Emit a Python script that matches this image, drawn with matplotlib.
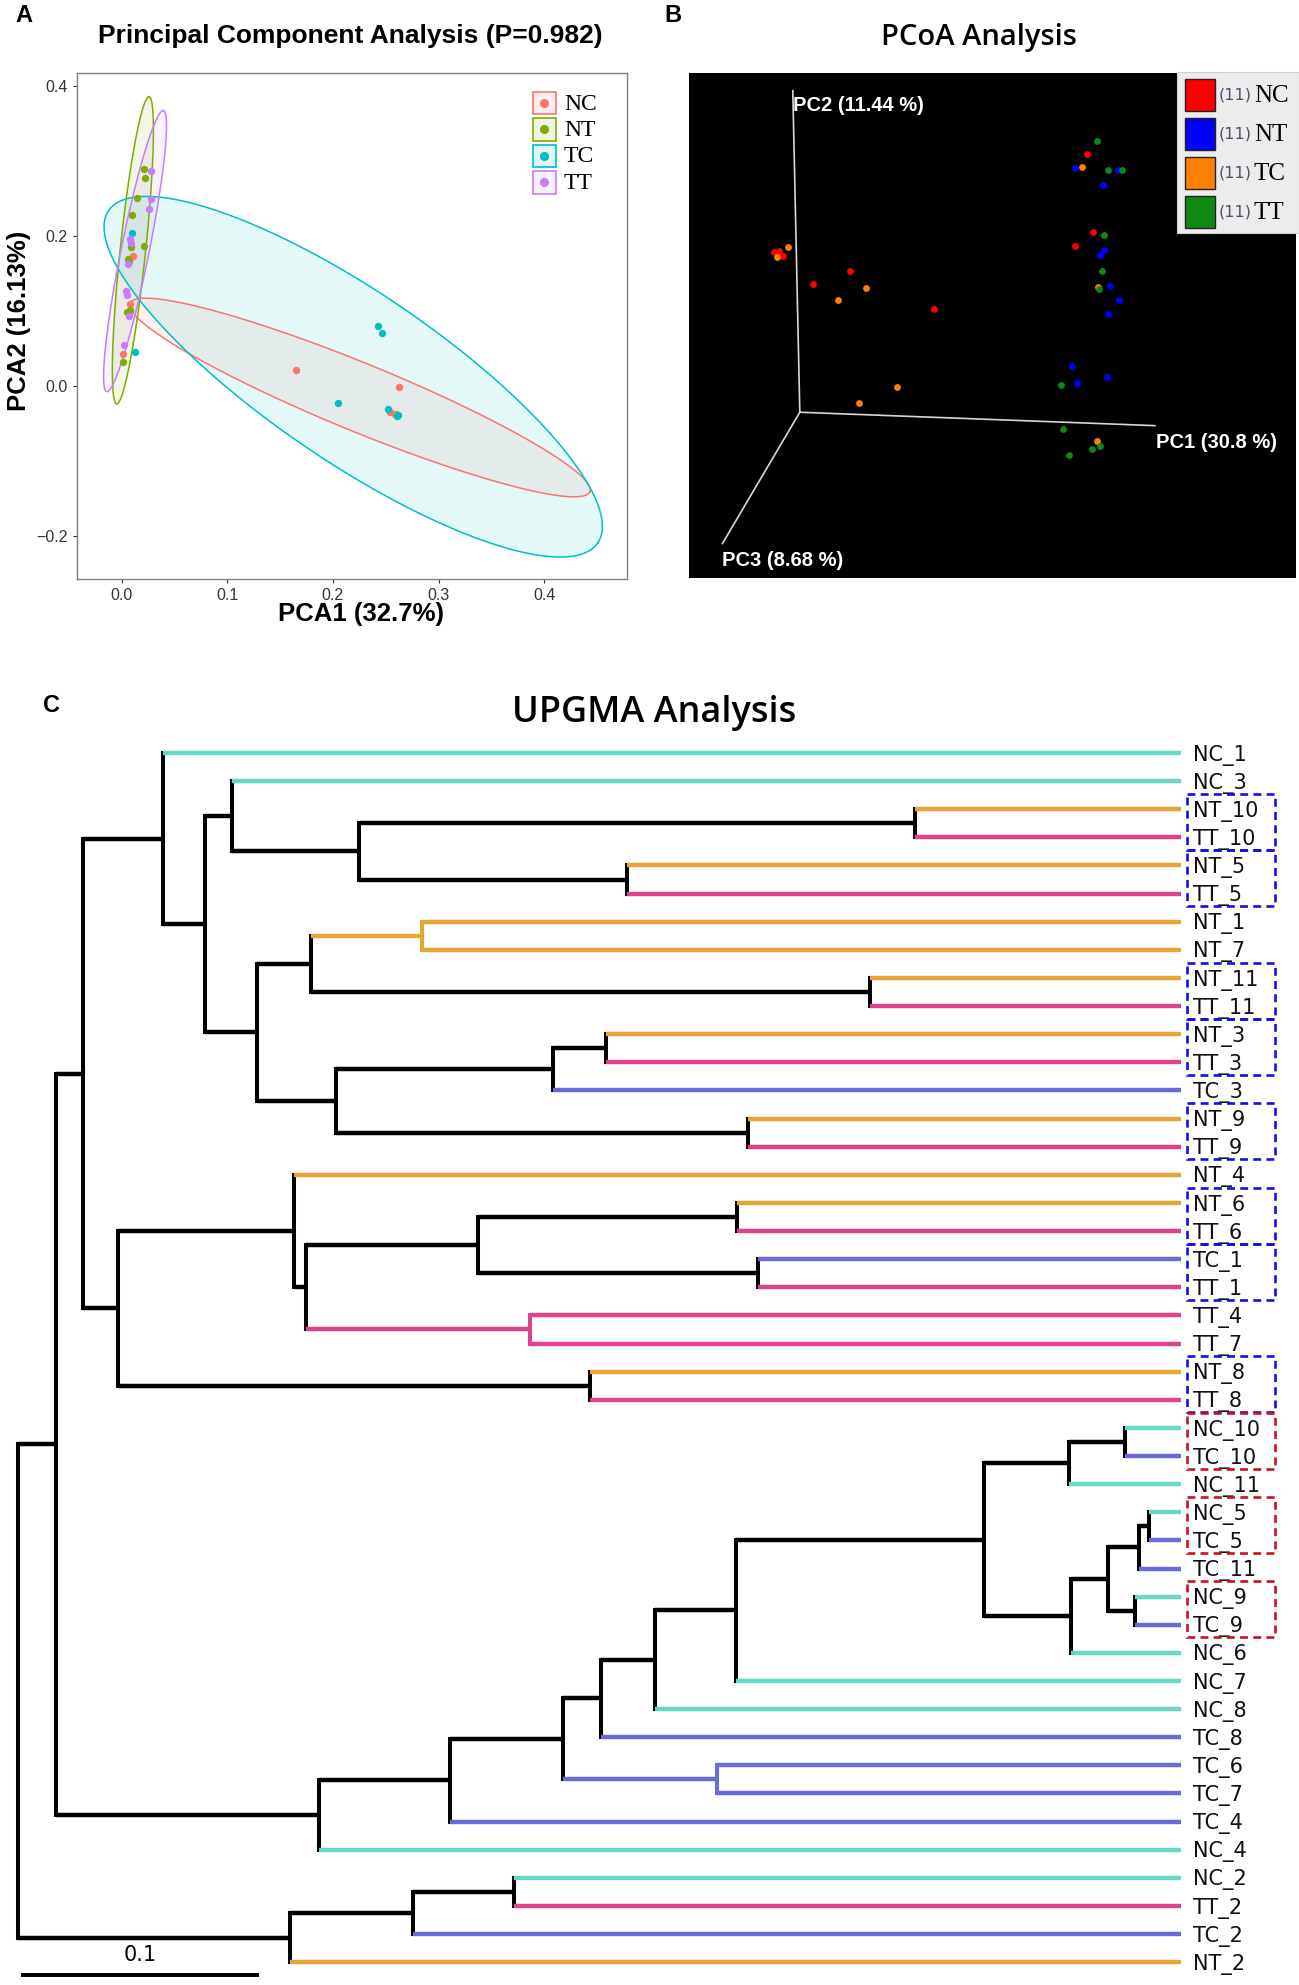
import numpy as np
import matplotlib
matplotlib.use("Agg")
import matplotlib.pyplot as plt
from matplotlib.patches import Rectangle

# ---------------- panel A data (PCA) ----------------
pca_groups = ["NC", "NT", "TC", "TT"]
pca_colors = ["#F8766D", "#7CAE00", "#00BFC4", "#C77CFF"]
nc_x = [0.0106, 0.0080, 0.0011, 0.1650, 0.2625, 0.2540, 0.2588, 0.2600, 0.2595]
nc_y = [0.1735, 0.1095, 0.0424, 0.0210, -0.0016, -0.0349, -0.0376, -0.0370, -0.0385]
nt_x = [0.0216, 0.0225, 0.0144, 0.0096, 0.0090, 0.0213, 0.0065, 0.0049, 0.0080, 0.0017, 0.0070]
nt_y = [0.2895, 0.2770, 0.2512, 0.2286, 0.1859, 0.1864, 0.1690, 0.0984, 0.1015, 0.0325, 0.1670]
tc_x = [0.0099, 0.0128, 0.2430, 0.2462, 0.2051, 0.2518, 0.2619, 0.2610]
tc_y = [0.2037, 0.0455, 0.0801, 0.0712, -0.0229, -0.0305, -0.0385, -0.0395]
tt_x = [0.0276, 0.0276, 0.0263, 0.0080, 0.0087, 0.0065, 0.0043, 0.0049, 0.0071, 0.0021]
tt_y = [0.2868, 0.2499, 0.2366, 0.1957, 0.1912, 0.1632, 0.1272, 0.1215, 0.0935, 0.0548]
pca_x = [nc_x, nt_x, tc_x, tt_x]
pca_y = [nc_y, nt_y, tc_y, tt_y]
# confidence ellipses: centre and two conjugate semi-axes (data units)
ell_center = [(0.2255, -0.0152), (0.01075, 0.1811), (0.2192, 0.0125), (0.0128, 0.1800)]
ell_u = [(0.2176, -0.1257), (0.0153, 0.2049), (0.2312, -0.2220), (0.0268, 0.1874)]
ell_v = [(-0.0125, -0.0417), (0.0120, -0.0017), (-0.0461, -0.0924), (0.0130, -0.0035)]
pca_xticks = [0.0, 0.1, 0.2, 0.3, 0.4]
pca_yticks = [-0.2, 0.0, 0.2, 0.4]

# ---------------- panel B data (PCoA, projected screen coords) ----------------
pcoa_groups = ["NC", "NT", "TC", "TT"]
pcoa_colors = ["#FF0000", "#0000FF", "#FF8000", "#118811"]
pcoa_pts = {
    "NC": [(300, 658), (312, 655), (322, 668), (393, 742), (484, 708), (687, 808),
           (1057, 403), (1071, 605), (1028, 642), (306, 660), (315, 665)],
    "TC": [(308, 672), (334, 645), (522, 752), (455, 785), (596, 1012), (506, 1052),
           (1044, 437), (1083, 750), (1079, 1152)],
    "NT": [(1028, 438), (1130, 443), (1095, 484), (1096, 654), (1087, 666), (1112, 748),
           (1134, 785), (1107, 821), (1020, 955), (1032, 1000), (1104, 986)],
    "TT": [(1079, 368), (1107, 443), (1140, 444), (1097, 615), (1091, 709), (1085, 756),
           (992, 1005), (997, 1120), (1013, 1188), (1067, 1173), (1088, 1165)],
}
pcoa_origin = (362, 1077)
pcoa_axis_ends = [(1220, 1112), (345, 237), (175, 1420)]
pcoa_axis_labels = ["PC1 (30.8 %)", "PC2 (11.44 %)", "PC3 (8.68 %)"]
pcoa_label_pos = [(1222, 1155), (345, 275), (175, 1465)]
pcoa_counts = [11, 11, 11, 11]

# ---------------- panel C data (UPGMA tree) ----------------
leaves = ["NC_1", "NC_3", "NT_10", "TT_10", "NT_5", "TT_5", "NT_1", "NT_7", "NT_11", "TT_11",
          "NT_3", "TT_3", "TC_3", "NT_9", "TT_9", "NT_4", "NT_6", "TT_6", "TC_1", "TT_1",
          "TT_4", "TT_7", "NT_8", "TT_8", "NC_10", "TC_10", "NC_11", "NC_5", "TC_5", "TC_11",
          "NC_9", "TC_9", "NC_6", "NC_7", "NC_8", "TC_8", "TC_6", "TC_7", "TC_4", "NC_4",
          "NC_2", "TT_2", "TC_2", "NT_2"]
LEAF_DEPTH = 0.4872
# (node, child_a, child_b, distance from root)
tree_nodes = [
    ("root", "a1", "b1", 0.0), ("a1", "u", "m", 0.0160), ("u", "u1", "u2", 0.0271),
    ("u1", "NC_1", "u1b", 0.0608), ("u1b", "u1c", "u1d", 0.0781), ("u1c", "NC_3", "p10_5", 0.0896),
    ("p10_5", "p10", "p5", 0.1427), ("p10", "NT_10", "TT_10", 0.3760), ("p5", "NT_5", "TT_5", 0.2552),
    ("u1d", "q1", "q2", 0.1000), ("q1", "p1_7", "p11", 0.1226), ("p1_7", "NT_1", "NT_7", 0.1694),
    ("p11", "NT_11", "TT_11", 0.3569), ("q2", "q3", "p9", 0.1330), ("q3", "p3", "TC_3", 0.2243),
    ("p3", "NT_3", "TT_3", 0.2465), ("p9", "NT_9", "TT_9", 0.3059), ("u2", "r1", "p8", 0.0420),
    ("r1", "NT_4", "r2", 0.1156), ("r2", "r3", "p4_7", 0.1208), ("r3", "p6", "p1", 0.1927),
    ("p6", "NT_6", "TT_6", 0.3014), ("p1", "TC_1", "TT_1", 0.3101), ("p4_7", "TT_4", "TT_7", 0.2146),
    ("p8", "NT_8", "TT_8", 0.2396), ("m", "m1", "NC_4", 0.1260), ("m1", "m2", "TC_4", 0.1809),
    ("m2", "m3", "p6_7", 0.2285), ("p6_7", "TC_6", "TC_7", 0.2927), ("m3", "m4", "TC_8", 0.2441),
    ("m4", "m5", "NC_8", 0.2667), ("m5", "m6", "NC_7", 0.3007), ("m6", "m7", "m8", 0.4049),
    ("m7", "p10c", "NC_11", 0.4403), ("p10c", "NC_10", "TC_10", 0.4639), ("m8", "m9", "NC_6", 0.4413),
    ("m9", "m10", "p9c", 0.4569), ("m10", "p5c", "TC_11", 0.4698), ("p5c", "NC_5", "TC_5", 0.4740),
    ("p9c", "NC_9", "TC_9", 0.4681), ("b1", "b2", "NT_2", 0.1139), ("b2", "p2", "TC_2", 0.1653),
    ("p2", "NC_2", "TT_2", 0.2076),
]
tree_colors = {"NC": "#66D9C6", "NT": "#E5A535", "TC": "#6A6ADA", "TT": "#E0418D"}
boxes_blue = [("NT_10", "TT_10"), ("NT_5", "TT_5"), ("NT_11", "TT_11"), ("NT_3", "TT_3"),
              ("NT_9", "TT_9"), ("NT_6", "TT_6"), ("TC_1", "TT_1"), ("NT_8", "TT_8")]
boxes_red = [("NC_10", "TC_10"), ("NC_5", "TC_5"), ("NC_9", "TC_9")]
scale_len = 0.1

plt.rcParams['font.family'] = ['DejaVu Sans']
W, H = 1299, 1985
fig = plt.figure(figsize=(W / 100, H / 100), dpi=100)


def axes_px(x0, y0, x1, y1, **kw):
    return fig.add_axes([x0 / W, 1 - y1 / H, (x1 - x0) / W, (y1 - y0) / H], **kw)


# ---------------- panel A ----------------
axA = axes_px(76.7, 72.7, 627, 579)
t = np.linspace(0, 2 * np.pi, 300)
for g, col, c, u, v in zip(pca_groups, pca_colors, ell_center, ell_u, ell_v):
    ex = c[0] + u[0] * np.cos(t) + v[0] * np.sin(t)
    ey = c[1] + u[1] * np.cos(t) + v[1] * np.sin(t)
    axA.fill(ex, ey, color=col, alpha=0.1, lw=0)
    axA.plot(ex, ey, color=col, lw=1.1)
for g, col, xs, ys in zip(pca_groups, pca_colors, pca_x, pca_y):
    axA.scatter(xs, ys, s=28, color=col, zorder=3, lw=0)
axA.set_xlim(-0.0424, 0.4782)
axA.set_ylim(-0.2572, 0.4179)
axA.set_xticks(pca_xticks)
axA.set_xticklabels([f"{v:.1f}" for v in pca_xticks])
axA.set_yticks(pca_yticks)
axA.set_yticklabels([f"{v:.1f}".replace("-", "\u2212") for v in pca_yticks])
axA.tick_params(length=3, width=0.8, color="#333333", labelsize=11.5, labelcolor="#333333", pad=3.5)
for lab in axA.get_xticklabels() + axA.get_yticklabels():
    lab.set_family("Liberation Sans")
for sp in axA.spines.values():
    sp.set_color("#7f7f7f")
    sp.set_linewidth(1.0)

# ---------------- panel B ----------------
axB = axes_px(688.5, 72.7, 1296, 578)
axB.set_facecolor("black")
for end in pcoa_axis_ends:
    axB.plot([pcoa_origin[0], end[0]], [pcoa_origin[1], end[1]], color="#d8d8d8", lw=1.2)
for lab, p in zip(pcoa_axis_labels, pcoa_label_pos):
    axB.text(p[0], p[1], lab, color="white", fontsize=14.5, fontweight="bold",
             family="Liberation Sans", va="center", ha="left")
for g, col in zip(pcoa_groups, pcoa_colors):
    pts = np.array(pcoa_pts[g])
    axB.scatter(pts[:, 0], pts[:, 1], s=24, color=col, lw=0, zorder=3)
axB.set_xlim(93, 1561)
axB.set_ylim(1510, 190)
axB.set_xticks([])
axB.set_yticks([])
for sp in axB.spines.values():
    sp.set_visible(False)

# ---------------- panel C ----------------
axC = axes_px(0, 690, 1299, 1985)
node_map = {n: (a, b, d) for n, a, b, d in tree_nodes}
leaf_idx = {n: i for i, n in enumerate(leaves)}


def under(n):
    if n in leaf_idx:
        return [n]
    a, b, _ = node_map[n]
    return under(a) + under(b)


def ypos(n):
    if n in leaf_idx:
        return leaf_idx[n]
    a, b, _ = node_map[n]
    return (ypos(a) + ypos(b)) / 2


def depth(n):
    return LEAF_DEPTH if n in leaf_idx else node_map[n][2]


def colour(n):
    gs = {l.split("_")[0] for l in under(n)}
    return tree_colors[gs.pop()] if len(gs) == 1 else "black"


def draw(n):
    if n in leaf_idx:
        return
    a, b, d = node_map[n]
    axC.plot([d, d], [ypos(a), ypos(b)], color=colour(n), lw=2.9, solid_capstyle="projecting")
    for ch in (a, b):
        axC.plot([d, depth(ch)], [ypos(ch)] * 2, color=colour(ch), lw=3.2, solid_capstyle="butt")
        draw(ch)


draw("root")
for i, name in enumerate(leaves):
    axC.text(LEAF_DEPTH + 0.0052, i + 0.27, name, fontsize=15, va="baseline", ha="left", color="#111111")
for pairs, bc in [(boxes_blue, "#1010E6"), (boxes_red, "#CC1020")]:
    for p, q in pairs:
        i, j = leaf_idx[p], leaf_idx[q]
        axC.add_patch(Rectangle((0.4899, i - 0.54), 0.0368, j - i + 0.99, fill=False,
                                ec=bc, lw=1.9, ls=(0, (3, 2)), zorder=4))
axC.plot([0.001, 0.001 + scale_len], [43.46, 43.46], color="black", lw=2.8, solid_capstyle="butt")
axC.text(0.001 + scale_len / 2, 42.75, f"{scale_len:g}", fontsize=15, ha="center", va="center")
axC.set_xlim(-0.00763, 0.5368)
axC.set_ylim(43.81, -2.24)
axC.axis("off")

# ---------------- overlay: titles, panel letters, legends ----------------
ov = fig.add_axes([0, 0, 1, 1], zorder=10)
ov.set_xlim(0, W)
ov.set_ylim(H, 0)
ov.axis("off")
ov.patch.set_alpha(0)

ov.text(24, 16, "A", fontsize=17, fontweight="bold", family="Liberation Sans", ha="center", va="center")
ov.text(673, 16, "B", fontsize=17, fontweight="bold", family="Liberation Sans", ha="center", va="center")
ov.text(52, 706, "C", fontsize=17, fontweight="bold", family="Liberation Sans", ha="center", va="center")
ov.text(350, 36, "Principal Component Analysis (P=0.982)", fontsize=19, fontweight="bold",
        family="Liberation Sans", ha="center", va="center")
ov.text(361, 614, "PCA1 (32.7%)", fontsize=18.5, fontweight="bold", family="Liberation Sans",
        ha="center", va="center")
ov.text(19, 321, "PCA2 (16.13%)", fontsize=18.5, fontweight="bold", family="Liberation Sans",
        ha="center", va="center", rotation=90)
ov.text(979, 38, "PCoA Analysis", fontsize=21, fontweight="semibold", family="Open Sans",
        ha="center", va="center")
ov.text(654, 713, "UPGMA Analysis", fontsize=26, fontweight="semibold", family="Open Sans",
        ha="center", va="center")

# legend A
for k, (g, col) in enumerate(zip(pca_groups, pca_colors)):
    yc = 103 + 26.5 * k
    ov.add_patch(Rectangle((533, yc - 11.2), 23, 22.4, fc=col, alpha=0.12, lw=0))
    ov.add_patch(Rectangle((533, yc - 11.2), 23, 22.4, fill=False, ec=col, lw=1.2))
    ov.plot([544.5], [yc], "o", ms=5.5, color=col)
    ov.text(564, yc + 1, g, fontsize=17, family="Liberation Serif", va="center", ha="left")

# legend B
ov.add_patch(Rectangle((1177, 72), 122, 161, fc="#ececec", ec="#cfcfcf", lw=0.8))
for k, (g, col, n) in enumerate(zip(pcoa_groups, pcoa_colors, pcoa_counts)):
    y0 = 79.3 + 39 * k
    ov.add_patch(Rectangle((1185, y0), 30, 31.5, fc=col, ec="#222222", lw=1.0))
    ov.text(1219, y0 + 16, f"({n})", fontsize=11.5, color="#5a4a6e", va="center", ha="left")
    ov.text(1254, y0 + 17, g, fontsize=18, family="Liberation Serif", va="center", ha="left")

fig.savefig("out.png", dpi=100)
